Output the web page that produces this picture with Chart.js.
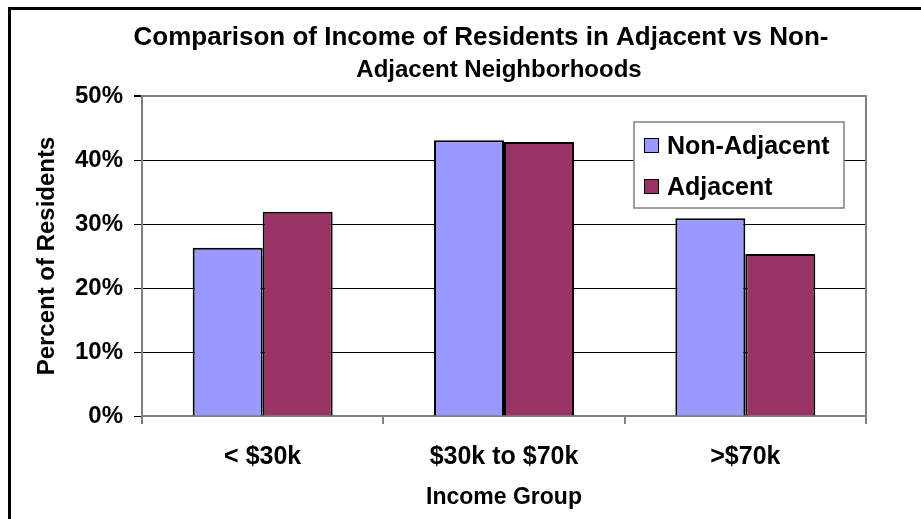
<!DOCTYPE html>
<html>
<head>
<meta charset="utf-8">
<script src="https://cdn.jsdelivr.net/npm/chart.js@4.4.1/dist/chart.umd.min.js"></script>
<style>
  html, body { margin: 0; padding: 0; background: #fff; overflow: hidden; }
  #wrap { position: relative; width: 921px; height: 519px; }
  #frame { position: absolute; left: 8px; top: 7px; width: 960px; height: 560px;
           border-top: 3px solid #000; border-left: 3px solid #000; pointer-events: none; }
</style>
</head>
<body>
<div id="wrap">
  <canvas id="income" width="921" height="519"></canvas>
  <div id="frame"></div>
</div>
<script>
// ── Data ──────────────────────────────────────────────────────────────────────
const categories  = ['< $30k', '$30k to $70k', '>$70k'];
const nonAdjacent = [26.3, 43.1, 30.9];
const adjacent    = [31.9, 42.8, 25.3];
const titleLines  = ['Comparison of Income of Residents in Adjacent vs Non-', 'Adjacent Neighborhoods'];

const FONT = '"Liberation Sans", Arial, sans-serif';
const GREY = '#808080';

// ── Two-line heading, each line centred on its own spot ──────────────────────
const headline = {
    id: 'headline',
    afterDraw(chart) {
        const ctx = chart.ctx;
        ctx.save();
        ctx.font = `bold 26px ${FONT}`;
        ctx.fillStyle = '#000';
        ctx.textAlign = 'center';
        ctx.textBaseline = 'middle';
        ctx.fillText(titleLines[0], 481, 38);
        ctx.font = `bold 24px ${FONT}`;
        ctx.fillText(titleLines[1], 499, 70);
        ctx.restore();
    },
};

// ── Plot frame: right edge of the plot area ──────────────────────────────────
const plotFrame = {
    id: 'plotFrame',
    beforeDatasetsDraw(chart) {
        const { ctx, chartArea: a } = chart;
        ctx.save();
        ctx.strokeStyle = GREY;
        ctx.lineWidth = 2;
        ctx.beginPath();
        ctx.moveTo(a.right, a.top - 1);
        ctx.lineTo(a.right, a.bottom + 8);
        ctx.stroke();
        ctx.restore();
    },
};

// ── Boxed legend sitting inside the plot, top right ──────────────────────────
const boxLegend = {
    id: 'boxLegend',
    afterDraw(chart) {
        const { ctx, chartArea: a } = chart;
        const x = a.right - 232, y = a.top + 26, w = 210, h = 86;
        ctx.save();
        ctx.fillStyle = '#fff';
        ctx.fillRect(x, y, w, h);
        ctx.strokeStyle = GREY;
        ctx.lineWidth = 1.5;
        ctx.strokeRect(x, y, w, h);
        ctx.font = `bold 25px ${FONT}`;
        ctx.textBaseline = 'middle';
        chart.data.datasets.forEach((ds, i) => {
            const cy = y + 24 + i * 41;
            ctx.fillStyle = ds.backgroundColor;
            ctx.fillRect(x + 10, cy - 8, 15, 15);
            ctx.strokeStyle = '#000';
            ctx.lineWidth = 1;
            ctx.strokeRect(x + 10.5, cy - 7.5, 14, 14);
            ctx.fillStyle = '#000';
            ctx.fillText(ds.label, x + 33, cy + 1);
        });
        ctx.restore();
    },
};

new Chart(document.getElementById('income'), {
    type: 'bar',
    data: {
        labels: categories,
        datasets: [
            { label: 'Non-Adjacent', data: nonAdjacent, backgroundColor: '#9999ff', borderColor: '#000', borderWidth: 2, borderSkipped: 'bottom' },
            { label: 'Adjacent',     data: adjacent,    backgroundColor: '#993366', borderColor: '#000', borderWidth: 2, borderSkipped: 'bottom' },
        ],
    },
    options: {
        responsive: false, animation: false,
        categoryPercentage: 0.58, barPercentage: 1,
        layout: { padding: { left: 0, right: 55, top: 96, bottom: 0 } },
        plugins: {
            legend: { display: false },
            title: { display: false },
            tooltip: { enabled: false },
        },
        scales: {
            x: {
                afterFit: s => { s.height = 103; },
                grid: { drawOnChartArea: false, drawTicks: true, tickLength: 8, tickColor: GREY, lineWidth: 2 },
                border: { color: GREY, width: 2 },
                ticks: { color: '#000', padding: 18, font: { family: FONT, size: 25, weight: 'bold' } },
                title: { display: true, text: 'Income Group', color: '#000', padding: { top: 4, bottom: 8 },
                         font: { family: FONT, size: 23, weight: 'bold' } },
            },
            y: {
                min: 0, max: 50,
                afterFit: s => { s.width = 142; },
                grid: {
                    color: c => c.tick.value === 50 ? GREY : '#000',
                    lineWidth: c => c.tick.value === 50 ? 2 : 1,
                    tickColor: '#000', tickLength: 8,
                },
                border: { color: GREY, width: 2 },
                ticks: { stepSize: 10, color: '#000', padding: 11, callback: v => v + '%',
                         font: { family: FONT, size: 24, weight: 'bold' } },
                title: { display: true, text: 'Percent of Residents', color: '#000', padding: { top: 33, bottom: 0 },
                         font: { family: FONT, size: 24, weight: 'bold' } },
            },
        },
    },
    plugins: [plotFrame, boxLegend, headline],
});
</script>
</body>
</html>
